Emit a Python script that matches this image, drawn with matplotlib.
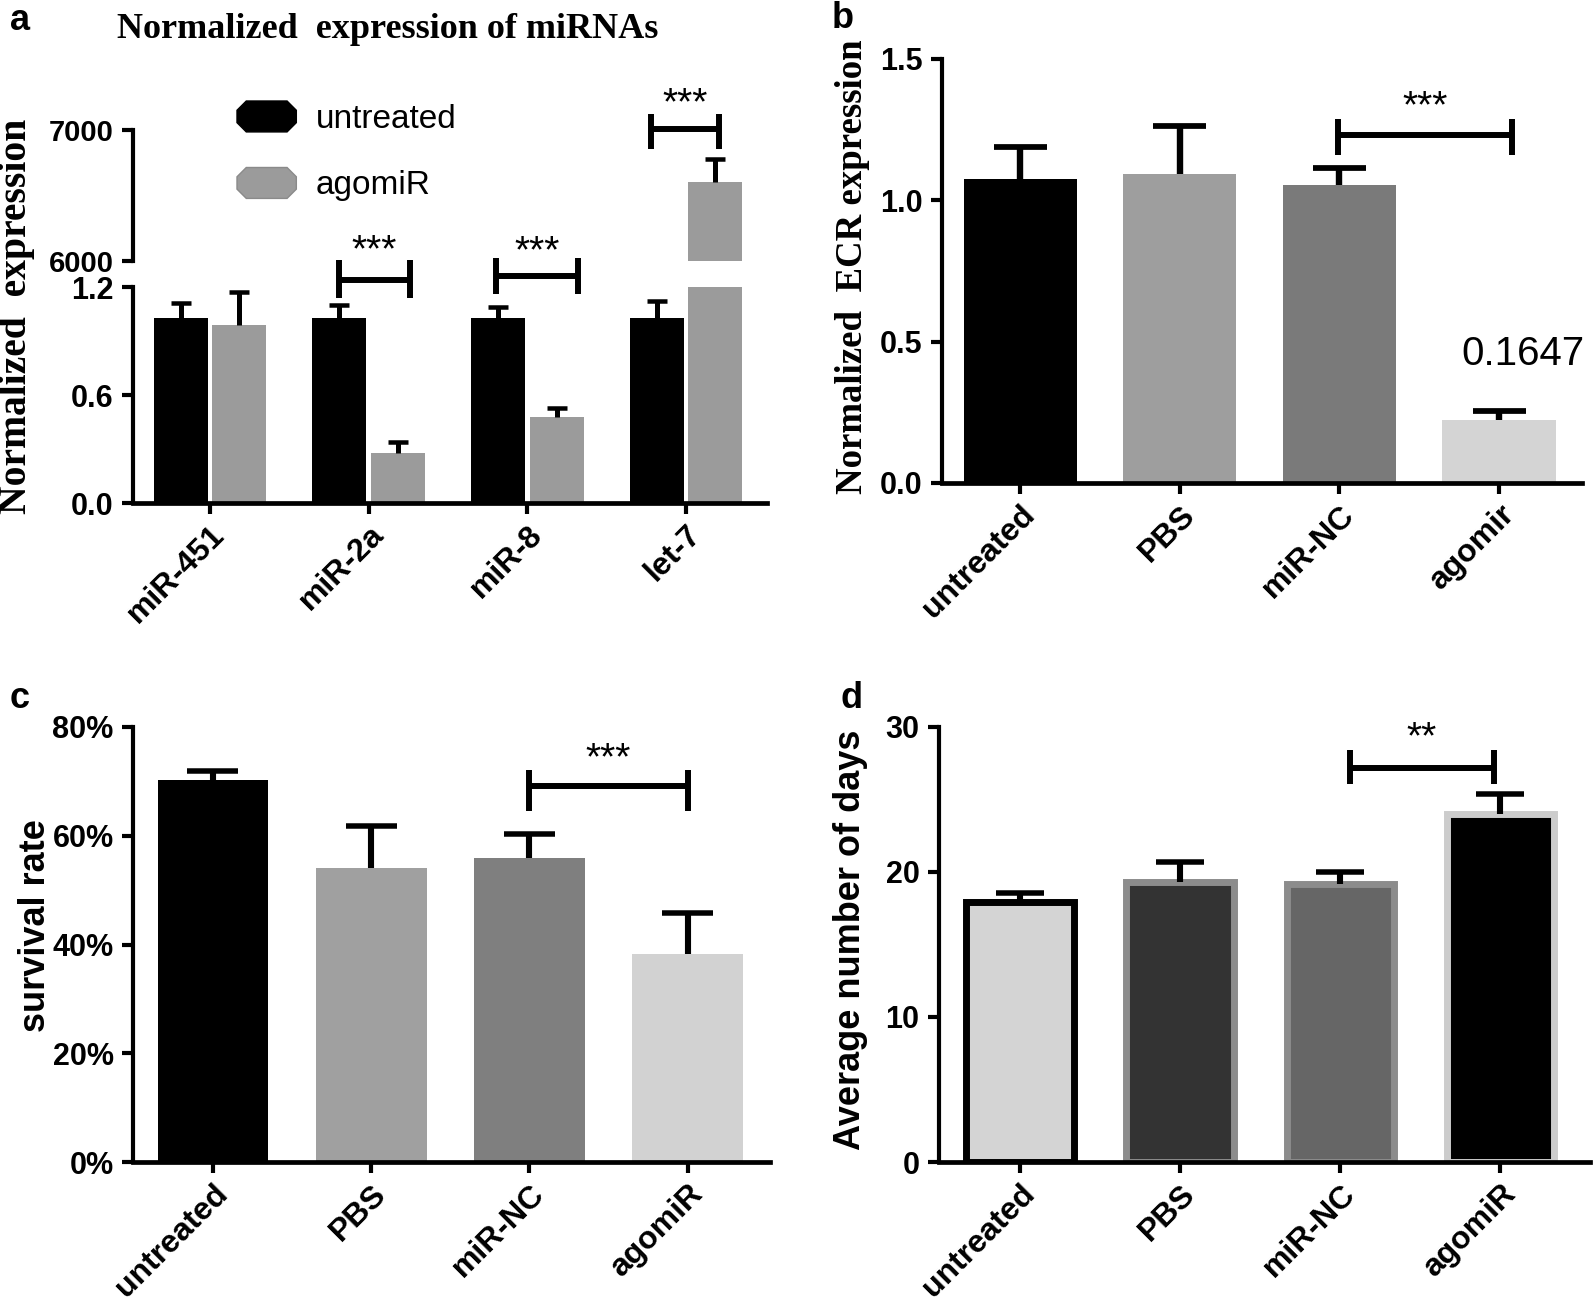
import numpy as np
import matplotlib
matplotlib.use('Agg')
import matplotlib.pyplot as plt
from matplotlib.patches import Patch, Polygon
from matplotlib.legend_handler import HandlerPatch
from matplotlib.ticker import FuncFormatter

# ---------------- data ----------------
mirnas = ['miR-451', 'miR-2a', 'miR-8', 'let-7']
a_untreated = [1.03, 1.03, 1.03, 1.03]
a_untreated_err = [0.08, 0.07, 0.06, 0.09]
a_agomir = [0.99, 0.28, 0.48, 6600]
a_agomir_err = [0.18, 0.06, 0.05, 177]

b_groups = ['untreated', 'PBS', 'miR-NC', 'agomir']
b_vals = [1.075, 1.093, 1.054, 0.223]
b_err = [0.112, 0.170, 0.060, 0.032]

c_groups = ['untreated', 'PBS', 'miR-NC', 'agomiR']
c_vals = [70.2, 54.0, 56.0, 38.2]
c_err = [1.7, 7.8, 4.3, 7.6]

d_groups = ['untreated', 'PBS', 'miR-NC', 'agomiR']
d_vals = [17.9, 19.3, 19.2, 24.0]
d_err = [0.65, 1.4, 0.8, 1.4]

W, H = 1595, 1304
SANS = 'Liberation Sans'
SERIF = 'Liberation Serif'
plt.rcParams['font.family'] = SANS

fig = plt.figure(figsize=(W / 100, H / 100), dpi=100)
fig.patch.set_facecolor('white')


def add_ax(left, right, top, bottom):
    # pixel box -> figure fraction
    return fig.add_axes([left / W, 1 - bottom / H, (right - left) / W, (bottom - top) / H])


def style_ax(ax, xlim):
    for s in ['top', 'right']:
        ax.spines[s].set_visible(False)
    ax.spines['left'].set_linewidth(3)
    ax.spines['bottom'].set_linewidth(3.4)
    ax.tick_params(axis='both', width=3, length=8, labelsize=22)
    ax.tick_params(axis='y', pad=6)
    ax.tick_params(axis='x', pad=4)
    ax.set_xlim(*xlim)
    for lab in ax.get_yticklabels() + ax.get_xticklabels():
        lab.set_fontweight('bold')


def set_cats(ax, labels):
    ax.set_xticks(range(len(labels)))
    ax.set_xticklabels(labels, rotation=45, ha='right', rotation_mode='anchor',
                       fontsize=23, fontweight='bold')


def err_up(ax, x, v, e, hw, lw=3.6, clip=True):
    ax.vlines(x, v, v + e, color='black', lw=lw, zorder=4, clip_on=clip)
    ax.hlines(v + e, x - hw, x + hw, color='black', lw=lw * 0.9, zorder=4, clip_on=clip)


def bracket(ax, x1, x2, y, ylo, yhi, star_y, label, lw=4.3, fs=28):
    ax.hlines(y, x1, x2, color='black', lw=lw, clip_on=False, zorder=5)
    ax.vlines([x1, x2], ylo, yhi, color='black', lw=lw, clip_on=False, zorder=5)
    # asterisks sit high in the em box: shift baseline below the visual centre
    ax.annotate(label, xy=((x1 + x2) / 2, star_y), xytext=(0, -0.48 * fs),
                textcoords='offset points', ha='center', va='baseline',
                fontsize=fs, annotation_clip=False)


# ---------------- panel a ----------------
xa = np.arange(len(mirnas))
bw_a = 0.34
off_a = 0.185
ax_lo = add_ax(133, 767, 287, 503)
ax_hi = add_ax(133, 767, 130, 261)

for ax in (ax_lo, ax_hi):
    ax.bar(xa - off_a, a_untreated, width=bw_a, color='black', zorder=2)
    ax.bar(xa + off_a, a_agomir, width=bw_a, color='#9b9b9b', zorder=2)

ax_lo.set_ylim(0, 1.2)
ax_hi.set_ylim(6000, 7000)
style_ax(ax_lo, (-0.485, 3.51))
style_ax(ax_hi, (-0.485, 3.51))
ax_lo.set_yticks([0, 0.6, 1.2])
ax_lo.yaxis.set_major_formatter(FuncFormatter(lambda v, p: f'{v:.1f}'))
set_cats(ax_lo, mirnas)
ax_hi.spines['bottom'].set_visible(False)
ax_hi.set_xticks([])
ax_hi.set_yticks([6000, 7000])
ax_hi.tick_params(axis='y', labelsize=21)
ax_hi.spines['left'].set_bounds(6000, 7000)
for ax in (ax_lo, ax_hi):
    ax.patch.set_alpha(0)
    for lab in ax.get_yticklabels():
        lab.set_fontweight('bold')

for i in range(len(mirnas)):
    for x, v, e in [(xa[i] - off_a, a_untreated[i], a_untreated_err[i]),
                    (xa[i] + off_a, a_agomir[i], a_agomir_err[i])]:
        if v <= 1.2:
            err_up(ax_lo, x, v, e, 0.063, lw=3.6)
        else:
            err_up(ax_hi, x, v, e, 0.063, lw=3.6)

bracket(ax_lo, 1 - 0.19, 1 + 0.26, 1.24, 1.14, 1.35, 1.444, '***')
bracket(ax_lo, 2 - 0.20, 2 + 0.32, 1.26, 1.16, 1.36, 1.44, '***')
bracket(ax_hi, 3 - 0.22, 3 + 0.21, 7008, 6854, 7123, 7262, '***')

fig.text(388 / W, 1 - 29 / H, 'Normalized  expression of miRNAs', family=SERIF,
         fontweight='bold', fontsize=26, ha='center', va='center')
fig.text(17 / W, 1 - 316 / H, 'Normalized  expression', family=SERIF,
         fontweight='bold', fontsize=28.5, rotation=90, ha='center', va='center')


class OctHandler(HandlerPatch):
    def create_artists(self, legend, orig_handle, xdescent, ydescent,
                       width, height, fontsize, trans):
        c = min(width, height) * 0.3
        x0, y0 = -xdescent, -ydescent
        pts = [(x0 + c, y0), (x0 + width - c, y0), (x0 + width, y0 + c),
               (x0 + width, y0 + height - c), (x0 + width - c, y0 + height),
               (x0 + c, y0 + height), (x0, y0 + height - c), (x0, y0 + c)]
        p = Polygon(pts, closed=True, facecolor=orig_handle.get_facecolor(),
                    edgecolor=orig_handle.get_edgecolor(), lw=1, transform=trans)
        return [p]


handles = [Patch(facecolor='black', edgecolor='black', label='untreated'),
           Patch(facecolor='#9b9b9b', edgecolor='#8a8a8a', label='agomiR')]
fig.legend(handles=handles, loc='upper left',
           bbox_to_anchor=(237 / W, 1 - 101 / H), frameon=False, fontsize=24,
           handlelength=1.78, handleheight=1.05, handletextpad=0.58,
           labelspacing=0.98, borderpad=0, borderaxespad=0,
           handler_map={Patch: OctHandler()})

# ---------------- panel b ----------------
xb = np.arange(len(b_groups))
ax_b = add_ax(942, 1582, 59, 483)
ax_b.bar(xb, b_vals, width=0.71, color=['#000000', '#9e9e9e', '#7a7a7a', '#d4d4d4'], zorder=2)
for i in range(len(b_groups)):
    err_up(ax_b, xb[i], b_vals[i], b_err[i], 0.166, lw=4.6)
ax_b.set_ylim(0, 1.5)
ax_b.set_yticks([0, 0.5, 1.0, 1.5])
ax_b.yaxis.set_major_formatter(FuncFormatter(lambda v, p: f'{v:.1f}'))
style_ax(ax_b, (-0.49, 3.52))
set_cats(ax_b, b_groups)
bracket(ax_b, 2 - 0.01, 3 + 0.08, 1.23, 1.16, 1.288, 1.358, '***')
ax_b.text(3.15, 0.455, f'{0.1647:.4f}', fontsize=29, ha='center', va='center')
fig.text(852 / W, 1 - 267 / H, 'Normalized  ECR expression', family=SERIF,
         fontweight='bold', fontsize=26.5, rotation=90, ha='center', va='center')

# ---------------- panel c ----------------
xc = np.arange(len(c_groups))
ax_c = add_ax(133, 770, 727, 1162)
ax_c.bar(xc, c_vals, width=0.70, color=['#000000', '#a0a0a0', '#7f7f7f', '#d2d2d2'], zorder=2)
for i in range(len(c_groups)):
    err_up(ax_c, xc[i], c_vals[i], c_err[i], 0.161, lw=4.4)
ax_c.set_ylim(0, 80)
ax_c.set_yticks([0, 20, 40, 60, 80])
ax_c.yaxis.set_major_formatter(FuncFormatter(lambda v, p: f'{v:.0f}%'))
style_ax(ax_c, (-0.505, 3.52))
set_cats(ax_c, c_groups)
bracket(ax_c, 2, 3, 69.1, 64.5, 72.1, 75.7, '***')
fig.text(36 / W, 1 - 926 / H, 'survival rate', fontweight='bold', fontsize=26,
         rotation=90, ha='center', va='center')

# ---------------- panel d ----------------
xd = np.arange(len(d_groups))
ax_d = add_ax(939, 1590, 727, 1162)
ax_d.bar(xd, d_vals, width=0.67,
         color=['#d4d4d4', '#333333', '#666666', '#000000'],
         edgecolor=['#000000', '#8c8c8c', '#8c8c8c', '#cccccc'], linewidth=5, zorder=2)
for i in range(len(d_groups)):
    err_up(ax_d, xd[i], d_vals[i], d_err[i], 0.15, lw=4.4)
ax_d.set_ylim(0, 30)
ax_d.set_yticks([0, 10, 20, 30])
style_ax(ax_d, (-0.506, 3.56))
set_cats(ax_d, d_groups)
bracket(ax_d, 2 + 0.06, 3 - 0.04, 27.2, 26.1, 28.4, 29.8, '**')
fig.text(850 / W, 1 - 940 / H, 'Average number of days', fontweight='bold', fontsize=26,
         rotation=90, ha='center', va='center')

# panel letters
for lab, x, y in [('a', 20, 20), ('b', 843, 19), ('c', 20, 699), ('d', 852, 699)]:
    fig.text(x / W, 1 - y / H, lab, fontweight='bold', fontsize=26, ha='center', va='center')

fig.savefig('out.png', dpi=100, facecolor='white')
